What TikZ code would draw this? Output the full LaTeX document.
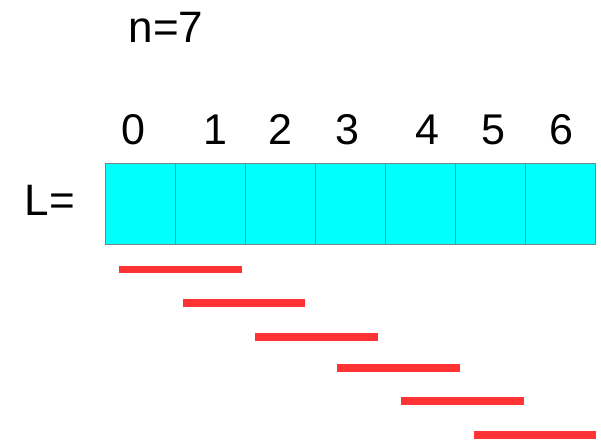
\documentclass[tikz,border=0pt]{standalone}
\usepackage{fontspec}
\setmainfont{Liberation Sans}
\definecolor{cellfill}{HTML}{00FFFF}
\definecolor{cellline}{HTML}{808080}
\definecolor{barred}{HTML}{FF3333}
\begin{document}
\begin{tikzpicture}[x=1pt,y=-1pt,
  lbl/.style={inner sep=0pt,font=\fontsize{43}{50}\selectfont},
  wide/.style={inner sep=0pt,font=\fontsize{44}{50}\selectfont},
  cell/.style={draw=cellline,line width=1pt,fill=cellfill,minimum width=70pt,minimum height=80.5pt,inner sep=0pt,anchor=north west},
  bar/.style={draw=barred,line width=7.6pt}]
\useasboundingbox (0,0) rectangle (601,443);
\node[wide,anchor=base] (n) at (166,43) {n=7};
\node[wide,anchor=base] (L) at (50,216) {L=};
\foreach \i/\dx in {0/133,1/215.5,2/280,3/347.5,4/427,5/493.5,6/561}{
  \node[lbl,anchor=base] (d\i) at (\dx,145) {\i};
}
\foreach \i in {0,...,6}{
  \node[cell] (c\i) at (105+70*\i,163.5) {};
}
\draw[bar] (119.3,269.5) -- (242,269.5);
\draw[bar] (183.3,303) -- (305.3,303);
\draw[bar] (255.3,337.2) -- (377.7,337.2);
\draw[bar] (337.3,367.7) -- (459.7,367.7);
\draw[bar] (401.3,400.8) -- (523.7,400.8);
\draw[bar] (473.7,435.2) -- (595.7,435.2);
\end{tikzpicture}
\end{document}
